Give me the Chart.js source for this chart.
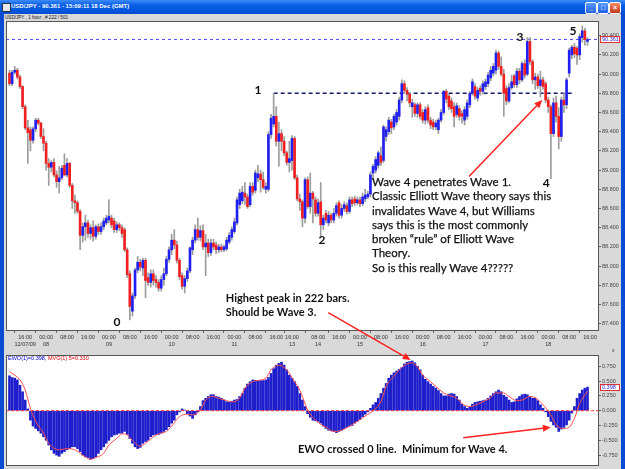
<!DOCTYPE html>
<html>
<head>
<meta charset="utf-8">
<script src="https://cdn.jsdelivr.net/npm/chart.js@4.4.1/dist/chart.umd.min.js"></script>
<style>
html,body{margin:0;padding:0}
body{width:625px;height:469px;position:relative;overflow:hidden;background:#d9d9d9;font-family:'Liberation Sans',Arial,sans-serif}
.abs{position:absolute}
canvas{position:absolute}
#title{left:0;top:0;width:625px;height:14px;background:linear-gradient(#3c8cf8,#0b5fe6 35%,#0558e0 70%,#0a4ccf)}
#titleText{left:11px;top:2px;color:#fff;font-weight:bold;font-size:6px;white-space:pre;line-height:9px}
#icon{left:2px;top:3px;width:7px;height:7px;background:#e8e8e8;border:1px solid #234}
.btn{top:2px;width:10px;height:10px;border:1px solid #fff;border-radius:2px;background:linear-gradient(#5a9bff,#1f5fe6);color:#fff;font-size:7px;line-height:9px;text-align:center;font-weight:bold}
#lb{left:0;top:14px;width:4px;height:455px;background:#0a4bd6}
#rb{left:621px;top:14px;width:4px;height:455px;background:#0a4bd6}
#sub{left:5px;top:14px;font-size:4.6px;color:#111;line-height:7px;white-space:pre}
#hdr{left:8px;top:355px;font-size:5.5px;white-space:pre;line-height:7px}
.note{position:absolute;font-family:Lato,'Open Sans',sans-serif;font-size:11.5px;color:#111;white-space:pre;line-height:14.3px;-webkit-text-stroke:0.25px #111}
.note.b{font-weight:bold;font-size:11px;-webkit-text-stroke:0}
.wave{position:absolute;font-family:Lato,sans-serif;font-weight:bold;font-size:12px;color:#111;transform:translate(-50%,-50%);line-height:14px}
</style>
</head>
<body>
<div id="title" class="abs"></div>
<div id="icon" class="abs"></div>
<div id="titleText" class="abs">USD/JPY - 90.361 - 15:09:11 18 Dec (GMT)</div>
<div class="abs btn" style="left:585px">_</div>
<div class="abs btn" style="left:597px">&#9633;</div>
<div class="abs btn" style="left:609px;background:linear-gradient(#f08a6a,#c8381a)">&#215;</div>
<div id="lb" class="abs"></div>
<div id="rb" class="abs"></div>
<div id="sub" class="abs">USD/JPY , 1 hour , # 222 / 501</div>
<canvas id="pc" width="614" height="331" style="left:6px;top:21px"></canvas>
<canvas id="oc" width="614" height="111" style="left:6px;top:355px"></canvas>
<canvas id="ov" width="625" height="469" style="left:0;top:0"></canvas>
<div id="hdr" class="abs"><span style="color:#0000d0">EWO(1)=0.398,</span> <span style="color:#e00000">MVG(1) 5=0.330</span></div>
<div class="abs" style="left:612px;top:347px;font-size:5px;color:#333">x</div>
<div id="notes"></div>
<script>
// ---------------- DATA ----------------
const open = [90.01,89.90,90.02,90.04,89.97,89.87,89.66,89.44,89.42,89.31,
89.43,89.52,89.49,89.35,89.28,89.07,89.03,89.08,88.95,88.88,
88.92,89.05,88.95,89.07,88.84,88.68,88.66,88.57,88.32,88.41,
88.45,88.34,88.40,88.31,88.41,88.36,88.41,88.45,88.48,88.50,
88.47,88.38,88.43,88.40,88.38,88.17,87.92,87.53,87.69,87.96,
88.04,87.98,88.06,87.88,87.83,87.92,87.86,87.83,87.77,87.86,
87.92,88.07,88.17,88.27,88.22,88.06,87.90,87.79,87.87,87.95,
88.17,88.27,88.38,88.30,88.37,88.20,88.24,88.14,88.24,88.22,
88.17,88.20,88.17,88.18,88.25,88.30,88.36,88.45,88.64,88.68,
88.76,88.72,88.64,88.83,88.79,88.92,88.96,88.90,88.80,88.80,
89.37,89.48,89.56,89.30,89.38,89.30,89.18,89.08,89.10,89.33,
88.92,88.70,88.67,88.50,88.90,88.62,88.76,88.69,88.55,88.67,
88.43,88.55,88.45,88.53,88.48,88.55,88.66,88.53,88.60,88.63,
88.57,88.69,88.70,88.66,88.69,88.65,88.70,88.72,88.75,88.97,
89.00,89.05,89.15,89.10,89.35,89.40,89.50,89.45,89.50,89.56,
89.73,89.90,89.83,89.79,89.66,89.68,89.59,89.68,89.60,89.52,
89.65,89.52,89.50,89.45,89.42,89.52,89.60,89.82,89.77,89.72,
89.66,89.58,89.64,89.59,89.52,89.56,89.68,89.80,89.87,89.75,
89.85,89.82,89.87,89.90,89.96,90.01,90.04,90.22,90.08,90.00,
89.85,89.72,89.86,89.98,89.89,90.03,89.94,90.11,90.00,90.34,
90.13,89.94,89.97,89.88,89.94,89.90,89.73,89.66,89.38,89.70,
89.56,89.35,89.73,89.68,90.01,90.20,90.28,90.27,90.20,90.38,
90.45,90.34];
const high = [90.04,90.04,90.08,90.06,89.99,89.88,89.68,89.52,89.45,89.45,
89.54,89.54,89.50,89.43,89.30,89.12,89.10,89.12,88.99,89.04,
89.05,89.17,89.12,89.08,88.86,88.74,88.68,88.59,88.45,88.53,
88.48,88.43,88.47,88.43,88.44,88.45,88.50,88.53,88.69,88.53,
88.50,88.46,88.45,88.43,88.40,88.19,87.95,87.72,87.98,88.10,
88.07,88.08,88.08,87.93,87.96,87.96,87.90,87.86,87.90,87.98,
88.10,88.20,88.33,88.38,88.26,88.08,87.93,87.90,87.98,88.20,
88.30,88.43,88.50,88.42,88.43,88.33,88.28,88.28,88.28,88.25,
88.23,88.23,88.22,88.30,88.35,88.41,88.50,88.72,88.80,88.83,
88.87,88.75,88.87,88.87,89.00,89.05,89.00,88.98,88.87,89.40,
89.58,89.80,89.66,89.50,89.42,89.35,89.20,89.30,89.36,89.35,
88.95,88.75,88.69,88.92,88.93,88.97,88.78,88.72,88.70,88.87,
88.53,88.58,88.57,88.55,88.60,88.66,88.68,88.64,88.67,88.66,
88.72,88.72,88.73,88.72,88.72,88.76,88.80,88.78,88.98,89.06,
89.14,89.20,89.24,89.47,89.45,89.55,89.53,89.58,89.63,89.76,
89.94,89.93,89.86,89.81,89.74,89.70,89.70,89.70,89.63,89.66,
89.68,89.55,89.53,89.52,89.54,89.63,89.83,89.84,89.79,89.75,
89.70,89.70,89.67,89.62,89.66,89.73,89.82,89.95,89.90,89.86,
89.88,89.93,89.95,90.02,90.08,90.11,90.25,90.24,90.18,90.05,
89.88,89.90,89.99,90.00,90.06,90.06,90.13,90.15,90.38,90.38,
90.15,90.01,90.00,90.03,89.97,89.92,89.76,89.68,89.75,89.77,
89.65,89.76,89.80,89.96,90.27,90.30,90.32,90.29,90.42,90.50,
90.48,90.38];
const low = [89.88,89.88,90.00,89.95,89.85,89.64,89.42,89.07,89.20,89.28,
89.40,89.47,89.33,89.20,89.00,88.84,88.98,88.93,88.82,88.76,
88.90,88.94,88.93,88.82,88.60,88.55,88.55,88.17,88.25,88.27,
88.30,88.28,88.26,88.28,88.33,88.33,88.38,88.43,88.45,88.40,
88.35,88.35,88.37,88.30,88.15,87.88,87.44,87.48,87.66,87.93,
87.95,87.90,87.67,87.80,87.78,87.80,87.78,87.74,87.74,87.80,
87.90,88.04,88.12,88.18,88.03,87.86,87.76,87.72,87.84,87.93,
88.12,88.24,88.27,88.26,88.17,87.90,88.10,88.11,88.17,88.13,
88.14,88.15,88.15,88.16,88.23,88.27,88.34,88.43,88.60,88.65,
88.64,88.60,88.62,88.74,88.76,88.88,88.77,88.80,88.76,88.78,
89.33,89.45,89.25,89.04,89.20,89.15,89.05,88.98,89.00,88.90,
88.68,88.58,88.41,88.45,88.60,88.55,88.45,88.52,88.52,88.31,
88.38,88.45,88.42,88.45,88.45,88.52,88.50,88.50,88.57,88.54,
88.55,88.62,88.63,88.64,88.62,88.63,88.67,88.70,88.72,88.90,
88.97,89.02,89.05,89.08,89.30,89.37,89.38,89.42,89.47,89.52,
89.70,89.80,89.72,89.66,89.55,89.56,89.55,89.53,89.49,89.48,
89.49,89.43,89.42,89.42,89.38,89.50,89.58,89.70,89.63,89.60,
89.45,89.55,89.52,89.49,89.47,89.53,89.65,89.78,89.74,89.72,
89.78,89.79,89.84,89.87,89.93,89.98,90.00,90.05,89.98,89.56,
89.68,89.70,89.84,89.86,89.86,89.90,89.92,89.96,89.98,90.10,
89.90,89.84,89.85,89.76,89.84,89.70,89.60,88.91,89.35,89.50,
89.22,89.30,89.60,89.64,89.97,90.16,90.17,90.10,90.15,90.33,
90.30,90.30];
const close = [89.90,90.02,90.04,89.97,89.87,89.66,89.44,89.39,89.31,89.43,
89.52,89.49,89.35,89.28,89.07,89.03,89.08,88.95,88.88,88.92,
89.02,88.95,89.07,88.84,88.68,88.66,88.57,88.32,88.41,88.45,
88.34,88.40,88.31,88.41,88.36,88.41,88.47,88.50,88.52,88.43,
88.38,88.43,88.40,88.34,88.17,87.91,87.58,87.69,87.96,88.04,
87.99,88.06,87.85,87.83,87.92,87.85,87.83,87.77,87.86,87.92,
88.07,88.17,88.27,88.22,88.06,87.89,87.79,87.87,87.95,88.19,
88.27,88.38,88.30,88.37,88.20,88.24,88.14,88.24,88.20,88.17,
88.20,88.17,88.20,88.27,88.32,88.38,88.46,88.69,88.76,88.77,
88.72,88.62,88.83,88.77,88.97,88.96,88.90,88.82,88.83,89.37,
89.54,89.56,89.30,89.38,89.30,89.18,89.08,89.12,89.33,88.92,
88.70,88.67,88.50,88.90,88.62,88.76,88.70,88.55,88.66,88.43,
88.50,88.48,88.53,88.48,88.55,88.63,88.53,88.60,88.64,88.57,
88.69,88.65,88.66,88.69,88.65,88.72,88.74,88.75,88.95,89.04,
89.11,89.18,89.08,89.45,89.42,89.52,89.44,89.56,89.60,89.73,
89.90,89.83,89.79,89.70,89.70,89.59,89.68,89.56,89.52,89.63,
89.52,89.47,89.45,89.49,89.52,89.60,89.82,89.74,89.66,89.64,
89.56,89.67,89.56,89.56,89.63,89.70,89.80,89.92,89.77,89.83,
89.82,89.90,89.92,89.99,90.04,90.08,90.22,90.08,90.00,89.80,
89.72,89.86,89.92,89.89,90.03,89.94,90.11,89.99,90.34,90.13,
89.94,89.97,89.88,89.94,89.87,89.73,89.66,89.38,89.70,89.56,
89.35,89.73,89.68,89.94,90.25,90.28,90.21,90.20,90.39,90.45,
90.36,90.361];
const ewo = [0.59,0.56,0.55,0.52,0.43,0.32,0.18,0.03,-0.16,-0.26,
-0.30,-0.34,-0.38,-0.44,-0.50,-0.58,-0.66,-0.72,-0.75,-0.77,
-0.72,-0.69,-0.66,-0.64,-0.61,-0.61,-0.64,-0.69,-0.75,-0.78,
-0.79,-0.82,-0.81,-0.78,-0.72,-0.66,-0.61,-0.55,-0.50,-0.44,
-0.41,-0.40,-0.38,-0.38,-0.35,-0.40,-0.47,-0.55,-0.61,-0.64,
-0.62,-0.55,-0.52,-0.50,-0.44,-0.41,-0.40,-0.40,-0.38,-0.35,
-0.32,-0.27,-0.21,-0.16,-0.07,-0.02,0.03,0.01,-0.05,-0.09,
-0.13,-0.07,-0.02,0.07,0.17,0.21,0.24,0.27,0.27,0.24,
0.23,0.21,0.18,0.15,0.15,0.16,0.18,0.19,0.24,0.29,
0.38,0.45,0.49,0.52,0.51,0.51,0.51,0.51,0.52,0.56,
0.63,0.71,0.77,0.80,0.82,0.77,0.69,0.60,0.55,0.49,
0.41,0.29,0.18,0.07,-0.05,-0.11,-0.16,-0.17,-0.18,-0.21,
-0.26,-0.30,-0.33,-0.34,-0.35,-0.37,-0.35,-0.33,-0.30,-0.28,
-0.26,-0.25,-0.21,-0.18,-0.15,-0.10,-0.06,-0.02,0.04,0.10,
0.14,0.21,0.29,0.38,0.46,0.55,0.60,0.64,0.67,0.70,
0.73,0.79,0.82,0.83,0.84,0.81,0.75,0.69,0.60,0.53,
0.49,0.45,0.41,0.38,0.34,0.29,0.25,0.25,0.28,0.29,
0.28,0.24,0.18,0.11,0.07,0.04,0.07,0.11,0.14,0.15,
0.16,0.17,0.18,0.21,0.25,0.29,0.32,0.35,0.32,0.26,
0.23,0.18,0.14,0.15,0.20,0.24,0.27,0.28,0.27,0.24,
0.21,0.21,0.17,0.10,0.04,-0.02,-0.10,-0.18,-0.24,-0.28,
-0.35,-0.31,-0.28,-0.24,-0.16,-0.04,0.07,0.21,0.29,0.35,
0.38,0.398];
// moving average (MVG) of EWO, read at bar positions
const mvgBar = [0,4,6,8,10,13,15,19,22,25,28,31,33,36,38,41,43,45,47,50,52,55,57,60,62,65,68,70,73,75,78,80,83,85,88,90,93,95,98,100,103,106,109,111,114,117,121,124,127,130,133,136,139,142,144,147,149,152,154,156,158,161,163,166,168,171,173,176,179,181,184,186,189,191,194,196,199,201,204,207,209,212,214,216,218,221];
const mvgVal = [0.66,0.52,0.35,0.04,-0.18,-0.38,-0.55,-0.66,-0.64,-0.66,-0.75,-0.82,-0.79,-0.72,-0.58,-0.47,-0.39,-0.41,-0.50,-0.60,-0.55,-0.44,-0.39,-0.35,-0.26,-0.10,-0.06,-0.07,0.01,0.18,0.24,0.21,0.17,0.15,0.21,0.38,0.49,0.51,0.55,0.69,0.77,0.69,0.49,0.35,0.01,-0.16,-0.28,-0.35,-0.33,-0.26,-0.18,-0.09,0.00,0.15,0.41,0.58,0.69,0.79,0.81,0.74,0.60,0.49,0.41,0.30,0.26,0.21,0.12,0.07,0.11,0.15,0.22,0.30,0.30,0.24,0.17,0.18,0.24,0.22,0.10,-0.07,-0.24,-0.30,-0.28,-0.13,0.12,0.33];
// x-axis tick labels (bar index, time row, date row)
const xTickBar  = [6,14,22,30,38,46,54,62,70,78,86,94,102,108,118,126,134,142,150,158,166,174,182,190,198,206,214,222];
const xTickTime = ['16:00','00:00','08:00','16:00','00:00','08:00','16:00','00:00','08:00','16:00','00:00','08:00','16:00','16:00','08:00','16:00','00:00','08:00','16:00','00:00','08:00','16:00','00:00','08:00','16:00','00:00','08:00','16:00'];
const xTickDate = ['12/07/09','08','','','09','','','10','','','11','','','13','14','','15','','','16','','','17','','','18','',''];
const priceTicks = [87.4,87.6,87.8,88.0,88.2,88.4,88.6,88.8,89.0,89.2,89.4,89.6,89.8,90.0,90.2,90.4];
const ewoTicks = [-0.75,-0.5,-0.25,0,0.25,0.5,0.75];
const lastPrice = 90.361;
const wave1Level = 89.80;
const wave1Bar = 101, wave1EndBar = 215;
const lastEwo = 0.398, lastMvg = 0.330;

// ---------------- CONFIG (layout / styles) ----------------
const X_MIN = -1.34, X_MAX = 225.4;
const P_MIN = 87.324, P_MAX = 90.553;
const O_MIN = -0.934, O_MAX = 0.941;
const BLUE = '#2020f0', RED = '#f02020', WICK = '#9c9c9c';
const axisFont = {family:'Liberation Sans', size:5.5};

const bars = open.map((_, i) => i);

const framePlugin = {
  id: 'frame',
  beforeDraw(chart) {
    const {ctx, chartArea: a} = chart;
    ctx.save(); ctx.fillStyle = '#fff'; ctx.fillRect(a.left, a.top, a.width, a.height); ctx.restore();
  },
  afterDraw(chart, args, opts) {
    const {ctx, chartArea: a} = chart;
    ctx.save();
    ctx.strokeStyle = '#555'; ctx.lineWidth = 1;
    ctx.strokeRect(a.left + 0.5, a.top + 0.5, a.width - 1, a.height - 1);
    if (opts && opts.boxValue !== undefined) {
      const y = Math.round(chart.scales.y.getPixelForValue(opts.boxValue));
      ctx.fillStyle = '#fff'; ctx.fillRect(a.right + 1, y - 3, 20, 7);
      ctx.strokeStyle = '#e03030'; ctx.strokeRect(a.right + 1.5, y - 2.5, 19, 6);
      ctx.fillStyle = '#2a2ae0'; ctx.font = '5.5px Liberation Sans'; ctx.textBaseline = 'middle'; ctx.textAlign = 'left';
      ctx.fillText(opts.boxText, a.right + 3, y + 0.5);
    }
    ctx.restore();
  }
};

function yAxis(min, max, ticks, fmt) {
  return {
    position: 'right', min, max,
    grid: {display: true, drawOnChartArea: false, drawTicks: true, tickLength: 2, color: '#666'},
    border: {display: false},
    afterBuildTicks: s => { s.ticks = ticks.map(v => ({value: v})); },
    afterFit: s => { s.width = 21; s.paddingTop = 0; s.paddingBottom = 0; },
    ticks: {padding: 1, color: '#444', font: axisFont, callback: v => fmt(v)}
  };
}

const priceChart = new Chart(document.getElementById('pc'), {
  type: 'bar',
  data: {
    datasets: [
      {label: 'body', data: bars.map(i => ({x: i, y: [open[i], close[i]]})),
       backgroundColor: c => (c.raw && c.raw.y[1] >= c.raw.y[0]) ? BLUE : RED,
       barThickness: 2, minBarLength: 1, grouped: false, order: 0},
      {label: 'wick', data: bars.map(i => ({x: i, y: [low[i], high[i]]})),
       backgroundColor: WICK, barThickness: 1, grouped: false, order: 1},
      {type: 'line', label: 'last', data: [{x: X_MIN, y: lastPrice}, {x: X_MAX, y: lastPrice}],
       borderColor: '#4a4aff', borderWidth: 1, borderDash: [3, 3], pointRadius: 0, order: 3},
      {type: 'line', label: 'wave1', data: [{x: wave1Bar, y: wave1Level}, {x: wave1EndBar, y: wave1Level}],
       borderColor: '#101a70', borderWidth: 1.5, borderDash: [4, 3], pointRadius: 0, order: 2}
    ]
  },
  options: {
    animation: false, responsive: false, devicePixelRatio: 1, events: [],
    layout: {padding: 0},
    plugins: {legend: {display: false}, tooltip: {enabled: false}, frame: {boxValue: lastPrice, boxText: '90.361'}},
    scales: {
      x: {
        type: 'linear', min: X_MIN, max: X_MAX, offset: false,
        grid: {display: true, drawOnChartArea: false, drawTicks: true, tickLength: 2, color: '#666'},
        border: {display: false},
        afterBuildTicks: s => { s.ticks = xTickBar.map(v => ({value: v})); },
        afterFit: s => { s.height = 21; s.paddingLeft = 0; s.paddingRight = 0; },
        ticks: {autoSkip: false, maxRotation: 0, minRotation: 0, padding: 0, color: '#333',
          font: {family: 'Liberation Sans', size: 5.5, lineHeight: 1.45},
          callback: v => { const k = xTickBar.indexOf(v); return k < 0 ? '' : [xTickTime[k], xTickDate[k]]; }}
      },
      y: yAxis(P_MIN, P_MAX, priceTicks, v => v.toFixed(3))
    }
  },
  plugins: [framePlugin]
});

const oscChart = new Chart(document.getElementById('oc'), {
  type: 'bar',
  data: {
    datasets: [
      {label: 'EWO', data: bars.map(i => ({x: i, y: ewo[i]})), backgroundColor: '#1e1ecc',
       barThickness: 2, grouped: false, order: 2},
      {type: 'line', label: 'zero', data: [{x: X_MIN, y: 0}, {x: X_MAX, y: 0}], borderColor: '#ff3030',
       borderWidth: 1, borderDash: [3, 2], pointRadius: 0, order: 1},
      {type: 'line', label: 'MVG', data: mvgBar.map((b, k) => ({x: b, y: mvgVal[k]})), borderColor: '#ff5050',
       borderWidth: 1, pointRadius: 0, tension: 0.4, cubicInterpolationMode: 'monotone', order: 0}
    ]
  },
  options: {
    animation: false, responsive: false, devicePixelRatio: 1, events: [],
    layout: {padding: 0},
    plugins: {legend: {display: false}, tooltip: {enabled: false}, frame: {boxValue: lastEwo, boxText: '0.398'}},
    scales: {
      x: {type: 'linear', min: X_MIN, max: X_MAX, offset: false, display: false},
      y: yAxis(O_MIN, O_MAX, ewoTicks, v => v.toFixed(3))
    }
  },
  plugins: [framePlugin]
});

// ---------------- annotations (anchored in data units) ----------------
const PC = {chart: priceChart, left: 6, top: 21};
const OC = {chart: oscChart, left: 6, top: 355};
function pt(p, x, y) {
  return [p.left + p.chart.scales.x.getPixelForValue(x), p.top + p.chart.scales.y.getPixelForValue(y)];
}
const waveLabels = [
  {t: '0', x: 41.1, y: 87.42}, {t: '1', x: 95.0, y: 89.83}, {t: '2', x: 119.5, y: 88.27},
  {t: '3', x: 195.2, y: 90.39}, {t: '4', x: 205.2, y: 88.865}, {t: '5', x: 215.5, y: 90.45}
];
const notes = [
  {p: PC, x: 138.6, y: 88.875, bold: false, lines: ['Wave 4 penetrates Wave 1.', 'Classic Elliott Wave theory says this', 'invalidates Wave 4, but Williams', 'says this is the most commonly', 'broken \u201crule\u201d of Elliott Wave', 'Theory.', 'So is this really Wave 4?????']},
  {p: PC, x: 82.7, y: 87.67, bold: true, lines: ['Highest peak in 222 bars.', 'Should be Wave 3.']},
  {p: OC, x: 110.3, y: -0.647, bold: true, lines: ['EWO crossed 0 line.  Minimum for Wave 4.']}
];
const arrows = [
  {a: [PC, 175.7, 88.934], b: [PC, 203.7, 89.73]},
  {a: [PC, 121.9, 87.515], b: [OC, 153.4, 0.856]},
  {a: [OC, 173.5, -0.456], b: [OC, 207.0, -0.28]}
];

const host = document.getElementById('notes');
waveLabels.forEach(w => {
  const [x, y] = pt(PC, w.x, w.y);
  const d = document.createElement('div'); d.className = 'wave'; d.textContent = w.t;
  d.style.left = x + 'px'; d.style.top = y + 'px'; host.appendChild(d);
});
notes.forEach(n => {
  const [x, y] = pt(n.p, n.x, n.y);
  const d = document.createElement('div'); d.className = n.bold ? 'note b' : 'note'; d.textContent = n.lines.join('\n');
  d.style.left = x + 'px'; d.style.top = (y - 7.15) + 'px'; host.appendChild(d);
});

const ov = document.getElementById('ov').getContext('2d');
ov.strokeStyle = '#ff2020'; ov.fillStyle = '#ff2020'; ov.lineWidth = 1.5;
arrows.forEach(ar => {
  const [x1, y1] = pt(ar.a[0], ar.a[1], ar.a[2]);
  const [x2, y2] = pt(ar.b[0], ar.b[1], ar.b[2]);
  const ang = Math.atan2(y2 - y1, x2 - x1), L = 8, W = 3.5;
  const bx = x2 - L * Math.cos(ang), by = y2 - L * Math.sin(ang);
  ov.beginPath(); ov.moveTo(x1, y1); ov.lineTo(bx, by); ov.stroke();
  ov.beginPath(); ov.moveTo(x2, y2);
  ov.lineTo(bx + W * Math.sin(ang), by - W * Math.cos(ang));
  ov.lineTo(bx - W * Math.sin(ang), by + W * Math.cos(ang));
  ov.closePath(); ov.fill();
});
</script>
</body>
</html>
